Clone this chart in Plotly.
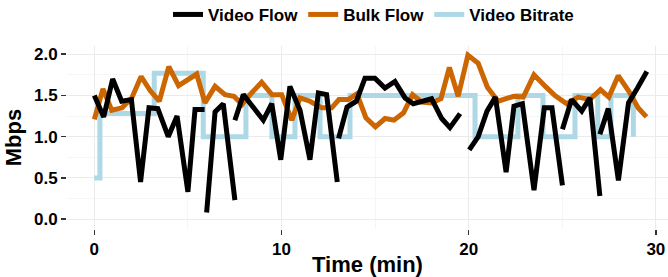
import plotly.graph_objects as go

# ---- data ----
video_t = [0, 0.5, 0.98, 1.46, 1.98, 2.47, 2.92, 3.39, 3.95, 4.42, 5.0, 5.38, 5.89, None,
           6.0, 6.45, 6.89, 7.51, None,
           7.51, 7.96, 8.48, 9.03, 9.48, 9.96, 10.45, 10.99, 11.52, 11.97, 12.41, 12.98, None,
           13.05, 13.5, 14.0, 14.46, 14.99, 15.53, 16.06, 16.6, 17.04, 17.57, 18.02, 18.56, 19.0, 19.54, None,
           20.03, 20.51, 20.98, 21.43, 22.0, 22.42, 22.87, 23.49, 24.04, 24.45, 25.01, None,
           25.01, 25.5, 26.04, 26.48, 27.01, None,
           27.01, 27.46, 28.0, 28.54, 29.02, 29.52]
video_v = [1.5, 1.24, 1.70, 1.43, 1.45, 0.45, 1.35, 1.34, 1.0, 1.25, 0.33, 1.33, 1.33, None,
           0.08, 1.30, 1.40, 0.23, None,
           1.20, 1.51, 1.36, 1.20, 1.40, 0.72, 1.61, 1.32, 0.72, 1.53, 1.51, 0.45, None,
           0.98, 1.36, 1.43, 1.71, 1.71, 1.59, 1.67, 1.47, 1.40, 1.44, 1.46, 1.22, 1.11, 1.28, None,
           0.84, 1.0, 1.31, 1.48, 0.57, 1.37, 1.40, 0.35, 1.35, 1.35, 0.41, None,
           1.09, 1.45, 1.31, 1.47, 0.28, None,
           1.03, 1.34, 0.47, 1.41, 1.59, 1.79]

bulk_t = [0, 0.46, 0.93, 1.48, 2.0, 2.5, 2.98, 3.47, 3.98, 4.5, 5.47, 5.91, 6.45, 6.98, 7.46,
          7.89, 8.4, 8.94, 9.49, 10.01, 10.55, 10.99, 11.52, 12.15, 12.68, 13.07, 13.57, 14.03,
          14.51, 15.02, 15.53, 16.01, 16.52, 17.0, 17.48, 18.01, 18.52, 18.97, 19.44, 19.96,
          20.51, 21.0, 21.57, 22.4, 22.92, 23.49, 24.1, 24.61, 25.24, 25.85, 26.47, 27.04,
          27.49, 27.99, 28.56, 29.05, 29.5]
bulk_v = [1.21, 1.58, 1.32, 1.35, 1.47, 1.73, 1.56, 1.43, 1.85, 1.62, 1.76, 1.41, 1.61, 1.51, 1.49,
          1.39, 1.53, 1.66, 1.51, 1.51, 1.20, 1.47, 1.43, 1.35, 1.35, 1.45, 1.45, 1.52,
          1.23, 1.12, 1.22, 1.20, 1.29, 1.51, 1.42, 1.41, 1.46, 1.84, 1.49, 1.99,
          1.89, 1.60, 1.43, 1.49, 1.48, 1.75, 1.61, 1.50, 1.40, 1.48, 1.45, 1.57,
          1.48, 1.74, 1.55, 1.35, 1.24]

bitrate_t = [0, 0.3, 3.2, 5.82, 8.1, 9.49, 10.72, 12.06, 13.66, 20.34, 22.63, 23.97, 25.68, 26.9, 27.6, 28.8]
bitrate_v = [0.5, 1.28, 1.77, 1.0, 1.5, 1.0, 1.5, 1.0, 1.5, 1.0, 1.5, 1.0, 1.5, 1.0, 1.5, 1.0]

x_ticks = [0, 10, 20, 30]
y_ticks = [0.0, 0.5, 1.0, 1.5, 2.0]
y_tick_labels = ["0.0", "0.5", "1.0", "1.5", "2.0"]

fig = go.Figure()
fig.add_trace(go.Scatter(x=bitrate_t, y=bitrate_v, mode="lines", name="Video Bitrate",
                         line=dict(color="#ADD8E6", width=5, shape="hv"), legendrank=3))
fig.add_trace(go.Scatter(x=bulk_t, y=bulk_v, mode="lines", name="Bulk Flow",
                         line=dict(color="#CC6600", width=5), legendrank=2))
fig.add_trace(go.Scatter(x=video_t, y=video_v, mode="lines", name="Video Flow",
                         line=dict(color="#000000", width=5), connectgaps=False, legendrank=1))

narrow = "Liberation Sans Narrow, Liberation Sans, Arial"
fig.update_layout(
    width=668, height=277,
    margin=dict(l=67, r=0, t=46, b=48, autoexpand=False),
    paper_bgcolor="white", plot_bgcolor="white",
    showlegend=True,
    legend=dict(orientation="h", x=0.51, xanchor="center", y=1.17, yanchor="middle",
                font=dict(family="Liberation Sans, Arial", size=17, color="#000000"),
                itemwidth=30, tracegroupgap=0, bgcolor="rgba(0,0,0,0)"),
    xaxis=dict(range=[-1.46, 30.65], tickvals=x_ticks, ticktext=["<b>%d</b>" % v for v in x_ticks],
               automargin=False,
               showgrid=True, gridcolor="#EBEBEB", gridwidth=1.2,
               minor=dict(dtick=5, tick0=0, showgrid=True, gridcolor="#F6F6F6", gridwidth=1),
               ticks="outside", ticklen=5, tickwidth=1.5, tickcolor="#333333",
               zeroline=False, showline=False,
               tickfont=dict(family=narrow, size=17, color="#000"),
               title=dict(text="<b>Time (min)</b>", standoff=0,
                          font=dict(family=narrow, size=22, color="#000"))),
    yaxis=dict(range=[-0.12, 2.1], tickvals=y_ticks, ticktext=["<b>%s</b>" % s for s in y_tick_labels],
               automargin=False,
               showgrid=True, gridcolor="#EBEBEB", gridwidth=1.2,
               minor=dict(dtick=0.25, tick0=0, showgrid=True, gridcolor="#F6F6F6", gridwidth=1),
               ticks="outside", ticklen=5, tickwidth=1.5, tickcolor="#333333",
               zeroline=False, showline=False,
               tickfont=dict(family=narrow, size=17, color="#000"),
               title=dict(text="<b>Mbps</b>", standoff=6,
                          font=dict(family=narrow, size=22, color="#000"))),
)
for t in fig.data:
    t.name = "<b>" + t.name + "</b>"

fig.write_html("out.html",
               config={"displayModeBar": False, "staticPlot": True},
               post_script="document.body.style.margin='0';document.body.style.overflow='hidden';")
